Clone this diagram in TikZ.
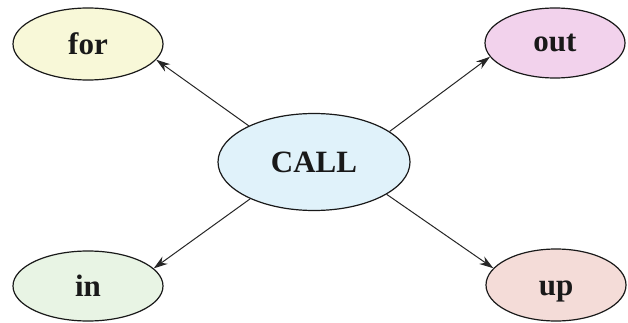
\documentclass[tikz,border=0pt]{standalone}
\usepackage{fontspec}
\setmainfont{Liberation Serif}
\usetikzlibrary{shapes.geometric,arrows.meta}
\definecolor{cfor}{HTML}{F8F8D8}
\definecolor{cout}{HTML}{F2D2EC}
\definecolor{ccall}{HTML}{E0F2FA}
\definecolor{cin}{HTML}{E8F4E4}
\definecolor{cup}{HTML}{F4DCD8}
\tikzset{
  word/.style={ellipse, draw=black!90, line width=1.2pt, inner sep=0pt,
    font=\fontsize{31}{31}\selectfont\bfseries, text=black!90},
  link/.style={draw=black!85, line width=1pt, -{Stealth[length=14pt,width=9pt]}}
}
\begin{document}
\begin{tikzpicture}[x=1pt,y=-1pt]
\useasboundingbox[fill=white] (0,0) rectangle (628,323);
\node[word, fill=ccall, minimum width=192pt, minimum height=97pt] (call) at (314,162) {CALL};
\node[word, fill=cfor, minimum width=150pt, minimum height=72pt] (for) at (88,44) {for};
\node[word, fill=cout, minimum width=140pt, minimum height=70pt] (out) at (555,43) {out};
\node[word, fill=cin, minimum width=150pt, minimum height=70pt] (in) at (88,286) {in};
\node[word, fill=cup, minimum width=140pt, minimum height=72pt, text height=28pt, text depth=7pt] (up) at (556,285) {up};
\draw[link] (call.151) -- (for.-13);
\draw[link] (call.22) -- (out.192);
\draw[link] (call.210) -- (in.15);
\draw[link] (call.-24) -- (up.165);
\end{tikzpicture}
\end{document}
